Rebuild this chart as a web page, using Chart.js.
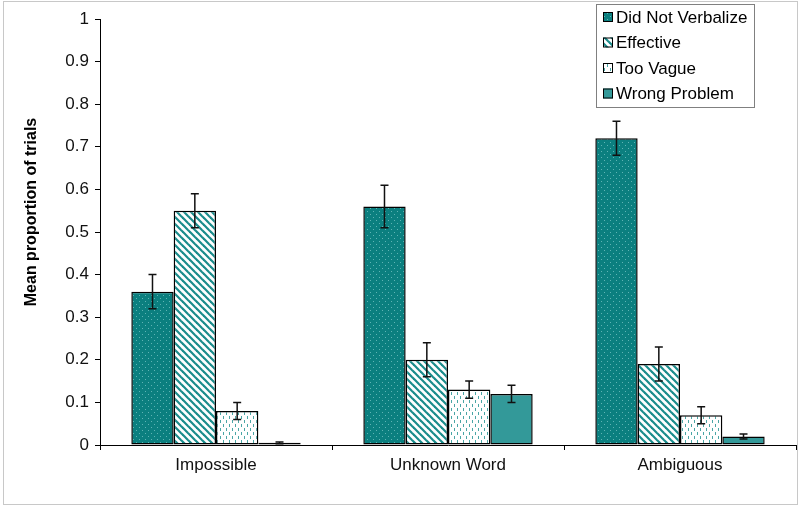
<!DOCTYPE html>
<html>
<head>
<meta charset="utf-8">
<script src="https://cdn.jsdelivr.net/npm/chart.js@4/dist/chart.umd.min.js"></script>
<style>
  body { margin: 0; background: #fff; }
  #wrap { width: 800px; height: 508px; position: relative; }
</style>
</head>
<body>
<div id="wrap"><canvas id="myChart" width="800" height="508"></canvas></div>
<script>
const categories = ['Impossible', 'Unknown Word', 'Ambiguous'];
const seriesNames = ['Did Not Verbalize', 'Effective', 'Too Vague', 'Wrong Problem'];
const didNotVerbalize = [0.36, 0.56, 0.72];
const effective = [0.55, 0.20, 0.19];
const tooVague = [0.08, 0.13, 0.07];
const wrongProblem = [0.005, 0.12, 0.02];
const errDidNotVerbalize = [0.04, 0.05, 0.04];
const errEffective = [0.04, 0.04, 0.04];
const errTooVague = [0.02, 0.02, 0.02];
const errWrongProblem = [0.002, 0.02, 0.006];
const yTicks = [0, 0.1, 0.2, 0.3, 0.4, 0.5, 0.6, 0.7, 0.8, 0.9, 1];
const yTitle = 'Mean proportion of trials';

const teal = '#0b7f7f';
const fontFam = '"Liberation Sans", Arial, sans-serif';

function makePattern(kind) {
    let c = document.createElement('canvas');
    let g = c.getContext('2d');
    if (kind === 'dots') {
        c.width = 6; c.height = 6;
        g.fillStyle = teal; g.fillRect(0, 0, 6, 6);
        g.fillStyle = '#5fb4b4';
        g.fillRect(1, 1, 1, 1);
        g.fillRect(4, 4, 1, 1);
    } else if (kind === 'diag') {
        c.width = 7; c.height = 7;
        g.fillStyle = '#fff'; g.fillRect(0, 0, 7, 7);
        g.strokeStyle = '#1a8c8c'; g.lineWidth = 2.2;
        for (let k = -7; k <= 7; k += 7) {
            g.beginPath(); g.moveTo(k - 1, -1); g.lineTo(k + 8, 8); g.stroke();
        }
    } else if (kind === 'dash') {
        c.width = 6; c.height = 8;
        g.fillStyle = '#fff'; g.fillRect(0, 0, 6, 8);
        g.fillStyle = '#4aa6a6';
        g.fillRect(1, 0, 1, 3);
        g.fillRect(4, 4, 1, 3);
    }
    return document.getElementById('myChart').getContext('2d').createPattern(c, 'repeat');
}

const fills = [makePattern('dots'), makePattern('diag'), makePattern('dash'), '#339999'];
const values = [didNotVerbalize, effective, tooVague, wrongProblem];
const errors = [errDidNotVerbalize, errEffective, errTooVague, errWrongProblem];

const errorBars = {
    id: 'errorBars',
    afterDatasetsDraw(chart) {
        let ctx = chart.ctx;
        let y = chart.scales.y;
        ctx.save();
        ctx.strokeStyle = '#111';
        ctx.lineWidth = 1.5;
        chart.data.datasets.forEach((ds, i) => {
            chart.getDatasetMeta(i).data.forEach((bar, j) => {
                let v = ds.data[j], e = errors[i][j];
                let x = bar.x;
                let top = y.getPixelForValue(v + e);
                let bot = y.getPixelForValue(v - e);
                ctx.beginPath();
                ctx.moveTo(x, top); ctx.lineTo(x, bot);
                ctx.moveTo(x - 4, top); ctx.lineTo(x + 4, top);
                ctx.moveTo(x - 4, bot); ctx.lineTo(x + 4, bot);
                ctx.stroke();
            });
        });
        ctx.restore();
    }
};

const legendBox = {
    id: 'legendBox',
    afterDraw(chart) {
        let ctx = chart.ctx;
        ctx.save();
        // outer frame
        ctx.strokeStyle = '#c8c8c8';
        ctx.lineWidth = 1;
        ctx.strokeRect(3.5, 1.5, 794, 503);
        // y title, sits a bit above the plot centre like the original
        ctx.save();
        ctx.translate(36, 212);
        ctx.rotate(-Math.PI / 2);
        ctx.font = 'bold 16px ' + fontFam;
        ctx.fillStyle = '#000';
        ctx.textAlign = 'center';
        ctx.textBaseline = 'alphabetic';
        ctx.fillText(yTitle, 0, 0);
        ctx.restore();
        // legend
        ctx.fillStyle = '#fff';
        ctx.fillRect(596, 4, 158, 103);
        ctx.strokeStyle = '#808080';
        ctx.strokeRect(596.5, 4.5, 158, 103);
        ctx.font = '17px ' + fontFam;
        ctx.textBaseline = 'middle';
        seriesNames.forEach((name, i) => {
            let cy = 17 + i * 25.5;
            ctx.fillStyle = fills[i];
            ctx.fillRect(603, cy - 5, 10, 10);
            ctx.strokeStyle = '#000';
            ctx.strokeRect(603.5, cy - 4.5, 9, 9);
            ctx.fillStyle = '#000';
            ctx.fillText(name, 616, cy + 1);
        });
        ctx.restore();
    }
};

new Chart(document.getElementById('myChart'), {
    type: 'bar',
    data: {
        labels: categories,
        datasets: seriesNames.map((name, i) => ({
            label: name,
            data: values[i],
            backgroundColor: fills[i],
            borderColor: '#000',
            borderWidth: 1.5,
            borderSkipped: false
        }))
    },
    options: {
        responsive: false,
        animation: false,
        layout: { padding: { top: 19, right: 4, left: 0, bottom: 0 } },
        datasets: { bar: { categoryPercentage: 0.73, barPercentage: 1 } },
        plugins: { legend: { display: false }, tooltip: { enabled: false } },
        scales: {
            x: {
                grid: { drawOnChartArea: false, drawTicks: true, tickLength: 5, color: '#000', offset: true },
                border: { color: '#000', width: 1 },
                ticks: { color: '#111', font: { family: fontFam, size: 17 }, padding: 5 },
                afterFit: s => { s.height = 63; }
            },
            y: {
                min: 0, max: 1,
                afterBuildTicks: s => { s.ticks = yTicks.map(v => ({ value: v })); },
                grid: { drawOnChartArea: false, drawTicks: true, tickLength: 5, color: '#000' },
                border: { color: '#000', width: 1 },
                ticks: { color: '#111', font: { family: fontFam, size: 17 }, padding: 6, callback: v => String(v) },
                afterFit: s => { s.width = 100; }
            }
        }
    },
    plugins: [errorBars, legendBox]
});
</script>
</body>
</html>
